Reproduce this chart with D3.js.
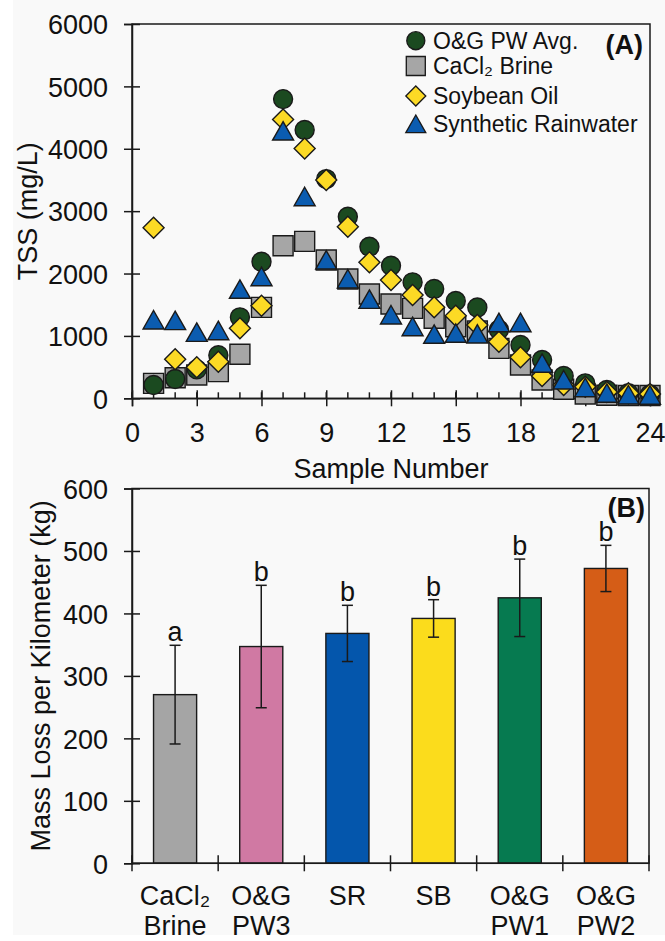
<!DOCTYPE html>
<html>
<head>
<meta charset="utf-8">
<script src="https://cdn.jsdelivr.net/npm/d3@7"></script>
<style>
  html, body { margin: 0; padding: 0; background: #ffffff; }
  svg { display: block; font-family: "Liberation Sans", Arial, sans-serif; }
</style>
</head>
<body>
<svg id="fig" width="665" height="941"></svg>
<script>
// ---------- Panel A: TSS per runoff sample ----------
const sampleNumbers = d3.range(1, 25);
const ogPwAvg = [213, 309, 464, 689, 1298, 2189, 4796, 4300, 3514, 2910, 2430, 2125,
                 1859, 1752, 1559, 1455, 1100, 854, 614, 357, 240, 133, 80, 60];
const cacl2Brine = [240, 330, 373, 427, 705, 1458, 2446, 2516, 2216, 1912, 1671, 1511,
                    1442, 1282, 1148, 1080, 801, 534, 293, 144, 69, 50, 45, 45];
const soybeanOil = [2734, 625, 497, 587, 1122, 1484, 4471, 4006, 3498, 2750, 2179, 1896,
                    1655, 1458, 1324, 1175, 907, 657, 357, 213, 186, 100, 80, 70];
const syntheticRainwater = [1255, 1245, 1057, 1084, 1747, 1949, 4284, 3231, 2216, 1912, 1586, 1335,
                            1148, 1026, 1042, 1030, 1212, 1212, 561, 293, 170, 80, 53, 50];
const tssTicks = [0, 1000, 2000, 3000, 4000, 5000, 6000];
const sampleTicks = [0, 3, 6, 9, 12, 15, 18, 21, 24];
const seriesNames = ["O&G PW Avg.", "CaCl₂ Brine", "Soybean Oil", "Synthetic Rainwater"];

// ---------- Panel B: mass loss per kilometer ----------
const treatments = ["CaCl₂ Brine", "O&G PW3", "SR", "SB", "O&G PW1", "O&G PW2"];
const massLoss = [270, 347, 368, 392, 425, 472];
const massLossErr = [79, 98, 45, 30, 62, 37];
const groupLetters = ["a", "b", "b", "b", "b", "b"];
const massTicks = [0, 100, 200, 300, 400, 500, 600];

const INK = "#1a1a1a";
const FONT = 27;
const plain = d3.format("d");

const svg = d3.select("#fig");
svg.append("rect").attr("x", 13).attr("y", 0).attr("width", 652).attr("height", 935)
  .attr("fill", "#f9f9f9");

// Marker shapes, centred on (0,0)
const shapes = {
  circle: "M9.5,0A9.5,9.5 0 1,1 -9.5,0A9.5,9.5 0 1,1 9.5,0Z",
  square: "M-10,-10H10V10H-10Z",
  diamond: "M0,-10.5L10.5,0L0,10.5L-10.5,0Z",
  triangle: "M0,-9.5L10.5,9L-10.5,9Z"
};
const series = [
  { name: seriesNames[1], values: cacl2Brine, shape: "square", fill: "#a6a6a6" },
  { name: seriesNames[0], values: ogPwAvg, shape: "circle", fill: "#1b4a20" },
  { name: seriesNames[2], values: soybeanOil, shape: "diamond", fill: "#fcda25" },
  { name: seriesNames[3], values: syntheticRainwater, shape: "triangle", fill: "#0b5cb0" }
];

// ===== Panel A =====
const A = { left: 132, right: 650, top: 24, bottom: 398.3 };
const xA = d3.scaleLinear().domain([0, 24]).range([A.left, A.right]);
const yA = d3.scaleLinear().domain([0, 6000]).range([A.bottom, A.top]);
const gA = svg.append("g");

gA.append("rect").attr("x", A.left).attr("y", A.top)
  .attr("width", A.right - A.left).attr("height", A.bottom - A.top)
  .attr("fill", "none").attr("stroke", INK).attr("stroke-width", 1.5);

// y axis with ticks crossing the axis line
const yAxisA = gA.append("g").attr("transform", `translate(${A.left},0)`)
  .call(d3.axisLeft(yA).tickValues(tssTicks).tickFormat(plain).tickSize(8).tickPadding(0));
yAxisA.select(".domain").attr("stroke", INK).attr("stroke-width", 1.5);
yAxisA.selectAll(".tick line").attr("x1", 8).attr("stroke", INK).attr("stroke-width", 1.5);
yAxisA.selectAll(".tick text").attr("x", -24).attr("dy", "0.36em")
  .attr("font-size", FONT).attr("fill", "#111").attr("font-family", null);

// minor x ticks (every sample) pointing up into the plot
gA.append("g").selectAll("line").data(d3.range(0, 25))
  .join("line")
  .attr("x1", d => xA(d)).attr("x2", d => xA(d))
  .attr("y1", A.bottom).attr("y2", A.bottom - 6)
  .attr("stroke", INK).attr("stroke-width", 1.5);

const xAxisA = gA.append("g").attr("transform", `translate(0,${A.bottom})`)
  .call(d3.axisBottom(xA).tickValues(sampleTicks).tickFormat(plain).tickSize(8).tickPadding(0));
xAxisA.select(".domain").attr("stroke", INK).attr("stroke-width", 1.5);
xAxisA.selectAll(".tick line").attr("y1", -8).attr("stroke", INK).attr("stroke-width", 1.5);
xAxisA.selectAll(".tick text").attr("y", 43.4).attr("dy", null)
  .attr("font-size", FONT).attr("fill", "#111").attr("font-family", null);

// markers
series.forEach(s => {
  gA.append("g").selectAll("path")
    .data(sampleNumbers.map((n, i) => [n, s.values[i]]))
    .join("path")
    .attr("d", shapes[s.shape])
    .attr("transform", d => `translate(${xA(d[0])},${yA(d[1])})`)
    .attr("fill", s.fill).attr("stroke", INK).attr("stroke-width", 1.4);
});

// legend
const legendOrder = [series[1], series[0], series[2], series[3]];
const legendY = [40.7, 66, 96, 124];
const leg = gA.append("g");
legendOrder.forEach((s, i) => {
  leg.append("path").attr("d", shapes[s.shape])
    .attr("transform", `translate(415.8,${legendY[i]}) scale(0.95)`)
    .attr("fill", s.fill).attr("stroke", INK).attr("stroke-width", 1.4);
  leg.append("text").attr("x", 433).attr("y", legendY[i]).attr("dy", "0.36em")
    .attr("font-size", 23).attr("fill", "#111").text(s.name);
});
gA.append("text").attr("x", 643).attr("y", 54).attr("text-anchor", "end")
  .attr("font-size", FONT).attr("font-weight", "bold").attr("fill", "#111").text("(A)");

// axis titles
gA.append("text").attr("x", (A.left + A.right) / 2).attr("y", 478)
  .attr("text-anchor", "middle").attr("font-size", FONT).attr("fill", "#111")
  .text("Sample Number");
gA.append("text")
  .attr("transform", `translate(37,${(A.top + A.bottom) / 2}) rotate(-90)`)
  .attr("text-anchor", "middle").attr("font-size", FONT).attr("fill", "#111")
  .text("TSS (mg/L)");

// ===== Panel B =====
const B = { left: 132, right: 649, top: 488.5, bottom: 863.3 };
const xB = d3.scaleBand().domain(treatments).range([B.left, B.right])
  .paddingInner(0.5).paddingOuter(0.25);
const yB = d3.scaleLinear().domain([0, 600]).range([B.bottom, B.top]);
const gB = svg.append("g");
const bars = treatments.map((t, i) => ({ t, v: massLoss[i], e: massLossErr[i], l: groupLetters[i] }));
const barFill = d3.scaleOrdinal().domain(treatments)
  .range(["#a5a5a5", "#d079a3", "#0456ac", "#fbdc1c", "#067a50", "#d55d17"]);

gB.append("g").selectAll("rect").data(bars).join("rect")
  .attr("x", d => xB(d.t)).attr("width", xB.bandwidth())
  .attr("y", d => yB(d.v)).attr("height", d => yB(0) - yB(d.v))
  .attr("fill", d => barFill(d.t)).attr("stroke", INK).attr("stroke-width", 1.4);

gB.append("rect").attr("x", B.left).attr("y", B.top)
  .attr("width", B.right - B.left).attr("height", B.bottom - B.top)
  .attr("fill", "none").attr("stroke", INK).attr("stroke-width", 1.5);

const yAxisB = gB.append("g").attr("transform", `translate(${B.left},0)`)
  .call(d3.axisLeft(yB).tickValues(massTicks).tickFormat(plain).tickSize(8).tickPadding(0));
yAxisB.select(".domain").attr("stroke", INK).attr("stroke-width", 1.5);
yAxisB.selectAll(".tick line").attr("x1", 8).attr("stroke", INK).attr("stroke-width", 1.5);
yAxisB.selectAll(".tick text").attr("x", -24).attr("dy", "0.36em")
  .attr("font-size", FONT).attr("fill", "#111").attr("font-family", null);

// category boundary ticks
const step = xB.step();
const boundaries = d3.range(0, treatments.length + 1).map(i => B.left + i * step);
gB.append("line").attr("x1", B.left).attr("x2", B.right)
  .attr("y1", B.bottom).attr("y2", B.bottom).attr("stroke", INK).attr("stroke-width", 1.5);
gB.append("g").selectAll("line").data(boundaries).join("line")
  .attr("x1", d => d).attr("x2", d => d)
  .attr("y1", B.bottom - 8).attr("y2", B.bottom + 8)
  .attr("stroke", INK).attr("stroke-width", 1.5);

// category labels (two lines where the name has a space)
const catLabels = gB.append("g").selectAll("text").data(treatments).join("text")
  .attr("text-anchor", "middle").attr("font-size", FONT).attr("fill", "#111");
catLabels.each(function (t) {
  const parts = t.split(" ");
  const cx = xB(t) + xB.bandwidth() / 2;
  parts.forEach((p, k) => {
    d3.select(this).append("tspan").attr("x", cx).attr("y", 905 + k * 30).text(p);
  });
});

// error bars
const eb = gB.append("g").attr("stroke", INK).attr("stroke-width", 1.5);
bars.forEach(d => {
  const cx = xB(d.t) + xB.bandwidth() / 2;
  eb.append("line").attr("x1", cx).attr("x2", cx).attr("y1", yB(d.v - d.e)).attr("y2", yB(d.v + d.e));
  [d.v - d.e, d.v + d.e].forEach(v => {
    eb.append("line").attr("x1", cx - 5.5).attr("x2", cx + 5.5).attr("y1", yB(v)).attr("y2", yB(v));
  });
});

// significance letters
gB.append("g").selectAll("text").data(bars).join("text")
  .attr("x", d => xB(d.t) + xB.bandwidth() / 2)
  .attr("y", d => yB(d.v + d.e) - 4)
  .attr("text-anchor", "middle").attr("font-size", FONT).attr("fill", "#111")
  .text(d => d.l);

gB.append("text").attr("x", 645).attr("y", 517).attr("text-anchor", "end")
  .attr("font-size", FONT).attr("font-weight", "bold").attr("fill", "#111").text("(B)");

gB.append("text")
  .attr("transform", `translate(50,${(B.top + B.bottom) / 2}) rotate(-90)`)
  .attr("text-anchor", "middle").attr("font-size", FONT).attr("fill", "#111")
  .text("Mass Loss per Kilometer (kg)");
</script>
</body>
</html>
